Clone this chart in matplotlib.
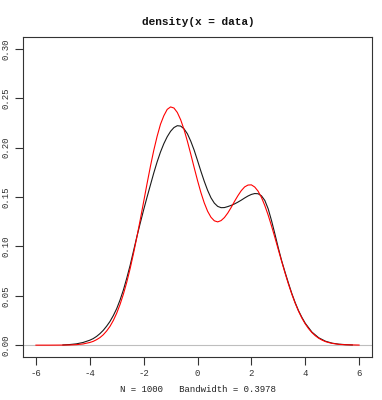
import matplotlib
matplotlib.use("Agg")
import matplotlib.pyplot as plt

title = "density(x = data)"
xlabel = "N = 1000   Bandwidth = 0.3978"
xticks = [-6, -4, -2, 0, 2, 4, 6]
yticks = [0.00, 0.05, 0.10, 0.15, 0.20, 0.25, 0.30]

# estimated density (black)
kde_x = [-5.0, -4.75, -4.5, -4.25, -4.0, -3.875, -3.75, -3.625, -3.5, -3.375,
         -3.25, -3.125, -3.0, -2.875, -2.75, -2.625, -2.5, -2.375, -2.25, -2.125,
         -2.0, -1.875, -1.75, -1.625, -1.5, -1.375, -1.25, -1.125, -1.0, -0.875,
         -0.75, -0.625, -0.5, -0.375, -0.25, -0.125, 0.0, 0.125, 0.25, 0.375,
         0.5, 0.625, 0.75, 0.875, 1.0, 1.125, 1.25, 1.375, 1.5, 1.625,
         1.75, 1.875, 2.0, 2.125, 2.25, 2.375, 2.5, 2.625, 2.75, 2.875,
         3.0, 3.125, 3.25, 3.375, 3.5, 3.625, 3.75, 3.875, 4.0, 4.25,
         4.5, 4.75, 5.0, 5.25, 5.5, 5.75]
kde_y = [0.0002, 0.0006, 0.0013, 0.0027, 0.0050, 0.0066, 0.0088, 0.0116, 0.0150, 0.0192,
         0.0240, 0.0300, 0.0370, 0.0458, 0.0560, 0.0680, 0.0810, 0.0955, 0.1100, 0.1237,
         0.1370, 0.1497, 0.1620, 0.1742, 0.1855, 0.1955, 0.2040, 0.2110, 0.2165, 0.2203,
         0.2222, 0.2218, 0.2190, 0.2140, 0.2065, 0.1975, 0.1870, 0.1762, 0.1660, 0.1568,
         0.1492, 0.1438, 0.1405, 0.1392, 0.1393, 0.1403, 0.1415, 0.1430, 0.1448, 0.1468,
         0.1490, 0.1510, 0.1526, 0.1535, 0.1533, 0.1512, 0.1465, 0.1380, 0.1260, 0.1125,
         0.0985, 0.0855, 0.0740, 0.0630, 0.0525, 0.0432, 0.0350, 0.0282, 0.0222, 0.0132,
         0.0075, 0.0040, 0.0020, 0.0010, 0.0005, 0.0002]

# reference density (red)
ref_x = [-6.0, -5.5, -5.0, -4.75, -4.5, -4.25, -4.0, -3.875, -3.75, -3.625,
         -3.5, -3.375, -3.25, -3.125, -3.0, -2.875, -2.75, -2.625, -2.5, -2.375,
         -2.25, -2.125, -2.0, -1.875, -1.75, -1.625, -1.5, -1.375, -1.25, -1.125,
         -1.0, -0.875, -0.75, -0.625, -0.5, -0.375, -0.25, -0.125, 0.0, 0.125,
         0.25, 0.375, 0.5, 0.625, 0.75, 0.875, 1.0, 1.125, 1.25, 1.375,
         1.5, 1.625, 1.75, 1.875, 2.0, 2.125, 2.25, 2.375, 2.5, 2.625,
         2.75, 2.875, 3.0, 3.125, 3.25, 3.375, 3.5, 3.625, 3.75, 3.875,
         4.0, 4.125, 4.25, 4.375, 4.5, 4.625, 4.75, 4.875, 5.0, 5.25,
         5.5, 6.0]
ref_y = [0.0000, 0.0000, 0.0001, 0.0002, 0.0005, 0.0012, 0.0027, 0.0038, 0.0055, 0.0076,
         0.0105, 0.0143, 0.0190, 0.0250, 0.0324, 0.0413, 0.0518, 0.0639, 0.0777, 0.0930,
         0.1096, 0.1271, 0.1452, 0.1633, 0.1808, 0.1971, 0.2114, 0.2236, 0.2323, 0.2387,
         0.2412, 0.2401, 0.2356, 0.2282, 0.2183, 0.2064, 0.1934, 0.1799, 0.1668, 0.1546,
         0.1441, 0.1356, 0.1295, 0.1259, 0.1248, 0.1261, 0.1292, 0.1338, 0.1394, 0.1456,
         0.1513, 0.1564, 0.1602, 0.1621, 0.1623, 0.1601, 0.1559, 0.1496, 0.1413, 0.1316,
         0.1206, 0.1089, 0.0968, 0.0848, 0.0731, 0.0620, 0.0518, 0.0426, 0.0345, 0.0275,
         0.0216, 0.0167, 0.0127, 0.0095, 0.0070, 0.0051, 0.0036, 0.0026, 0.0018, 0.0008,
         0.0004, 0.0001]

font = "Liberation Mono"
fig = plt.figure(figsize=(3.82, 4.0), dpi=100)
fig.patch.set_facecolor("white")
ax = fig.add_axes([23/382, 43/400, 349/382, 320/400])

ax.axhline(0, color="#bebebe", lw=0.8, zorder=1)
ax.plot(kde_x, kde_y, color="#1a1a1a", lw=0.8, zorder=2)
ax.plot(ref_x, ref_y, color="#ff0000", lw=0.8, zorder=3)

ax.set_xlim(-6.48, 6.48)
ax.set_ylim(-0.012, 0.312)
ax.set_xticks(xticks)
ax.set_xticklabels([str(t) for t in xticks], family=font, fontsize=6.5)
ax.set_yticks(yticks)
ax.set_yticklabels(["%.2f" % t for t in yticks], family=font, fontsize=6.5,
                   rotation=90, va="center")
ax.tick_params(axis="both", length=6, width=0.8, color="#333333", labelcolor="#333333", pad=3)
for s in ax.spines.values():
    s.set_color("#333333")
    s.set_linewidth(0.8)

fig.text(198/382, 1 - 22/400, title, family=font, fontsize=8, fontweight="bold",
         ha="center", va="center", color="#111111")
fig.text(198/382, 1 - 390/400, xlabel, family=font, fontsize=6.5,
         ha="center", va="center", color="#222222")

fig.savefig("out.png", dpi=100, facecolor="white")
